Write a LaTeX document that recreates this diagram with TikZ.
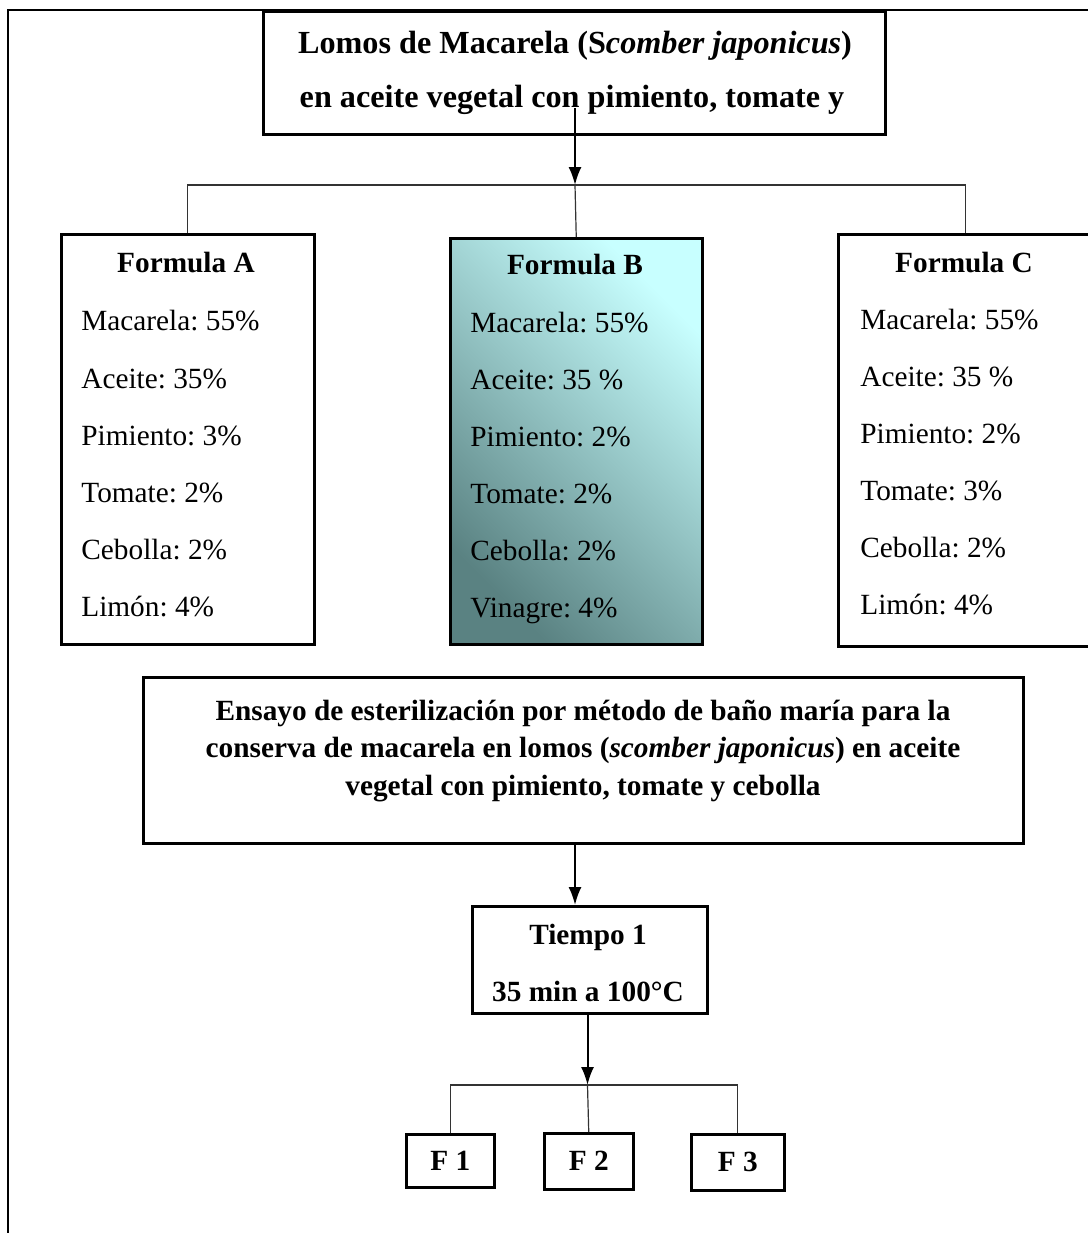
\documentclass[tikz,border=0pt]{standalone}
\usepackage{fontspec}
\setmainfont{Liberation Serif}
\usetikzlibrary{positioning,calc,arrows.meta}
\definecolor{bdark}{HTML}{5A8282}
\definecolor{bmid}{HTML}{B0E5E5}
\definecolor{blight}{HTML}{C8FFFF}
\definecolor{wire}{HTML}{333333}
\frenchspacing

\begin{document}
\begin{tikzpicture}[x=0.5pt, y=-0.5pt,
	caja/.style={draw, line width=1.25pt, inner sep=0pt, anchor=north west},
	txt/.style={inner sep=0pt, text height=10.5pt, text depth=1pt, font=\fontsize{14.65}{17}\selectfont},
	titulo/.style={txt, font=\fontsize{14.65}{17}\selectfont\bfseries},
	rama/.style={draw=wire, line width=0.6pt},
	flecha/.style={line width=1pt, -{Latex[length=9pt,width=6.5pt]}}]
			\useasboundingbox (0,0) rectangle (1088,1233);
			% marco
			\draw [line width=1.2pt] (8,1245) -- (8,10) -- (1100,10);
			% producto
			\node [caja, minimum width=311pt, minimum height=61.5pt] (prod) at (262,10) {};
			\node [titulo, font=\fontsize{16.1}{18}\selectfont\bfseries] (prod1) at (575,44) {Lomos de Macarela (S\textit{comber japonicus})};
			\node [titulo, font=\fontsize{16.1}{18}\selectfont\bfseries] (prod2) at (572,98) {en aceite vegetal con pimiento, tomate y};
			% formulas
			\node [caja, minimum width=126.5pt, minimum height=205pt] (fA) at (60,233) {};
			\node [caja, minimum width=126pt, minimum height=203pt,
				left color=blight, middle color=bmid, right color=bdark, shading angle=-45] (fB) at (449,237) {};
			\node [caja, minimum width=127pt, minimum height=206pt] (fC) at (837,233) {};
			\node [titulo] (tA) at (186,263) {Formula A};
			\node [titulo] (tB) at (575,265) {Formula B};
			\node [titulo] (tC) at (964,263) {Formula C};
			\node [txt, anchor=west] (a1) at (81,321) {Macarela: 55\%};
			\node [txt, anchor=west] (a2) at (81,379) {Aceite: 35\%};
			\node [txt, anchor=west] (a3) at (81,436) {Pimiento: 3\%};
			\node [txt, anchor=west] (a4) at (81,493) {Tomate: 2\%};
			\node [txt, anchor=west] (a5) at (81,550) {Cebolla: 2\%};
			\node [txt, anchor=west] (a6) at (81,607) {Limón: 4\%};
			\node [txt, anchor=west] (b1) at (470,323) {Macarela: 55\%};
			\node [txt, anchor=west] (b2) at (470,380) {Aceite: 35 \%};
			\node [txt, anchor=west] (b3) at (470,437) {Pimiento: 2\%};
			\node [txt, anchor=west] (b4) at (470,494) {Tomate: 2\%};
			\node [txt, anchor=west] (b5) at (470,551) {Cebolla: 2\%};
			\node [txt, anchor=west] (b6) at (470,608) {Vinagre: 4\%};
			\node [txt, anchor=west] (c1) at (860,320) {Macarela: 55\%};
			\node [txt, anchor=west] (c2) at (860,377) {Aceite: 35 \%};
			\node [txt, anchor=west] (c3) at (860,434) {Pimiento: 2\%};
			\node [txt, anchor=west] (c4) at (860,491) {Tomate: 3\%};
			\node [txt, anchor=west] (c5) at (860,548) {Cebolla: 2\%};
			\node [txt, anchor=west] (c6) at (860,605) {Limón: 4\%};
			% ensayo
			\node [caja, minimum width=440pt, minimum height=83pt] (es) at (142,676) {};
			\node [titulo, text height=, text depth=, align=center,
				font=\fontsize{14.65}{18.75}\selectfont\bfseries] (est) at (583,751)
				{Ensayo de esterilización por método de baño maría para la\\
				conserva de macarela en lomos (\textit{scomber japonicus}) en aceite\\
				vegetal con pimiento, tomate y cebolla};
			\node [caja, minimum width=117.5pt, minimum height=53.5pt] (ti) at (471,905) {};
			\node [titulo] (ti1) at (588,935) {Tiempo 1};
			\node [titulo] (ti2) at (588,992) {35 min a 100°C};
			% frascos
			\node [caja, titulo, minimum width=44pt, minimum height=26.5pt] (f1) at (405,1133) {F 1};
			\node [caja, titulo, minimum width=44.5pt, minimum height=28pt] (f2) at (543,1132) {F 2};
			\node [caja, titulo, minimum width=46.5pt, minimum height=28pt] (f3) at (690,1133) {F 3};
			% conectores
			\coordinate (s1) at (575,108);
			\coordinate (j1) at (575,185);
			\coordinate (j2) at (587.5,1085);
			\draw [flecha] (s1) -- (j1);
			\draw [rama] (fA.north) |- (j1) -| (fC.north);
			\draw [rama] (j1) -- (fB.north);
			\draw [flecha] (es.south -| j1) -- (ti.north -| j1);
			\draw [flecha] (ti.south -| j2) -- (j2);
			\draw [rama] (f1.north) |- (j2) -| (f3.north);
			\draw [rama] (j2) -- (f2.north);
		\end{tikzpicture}
\end{document}
